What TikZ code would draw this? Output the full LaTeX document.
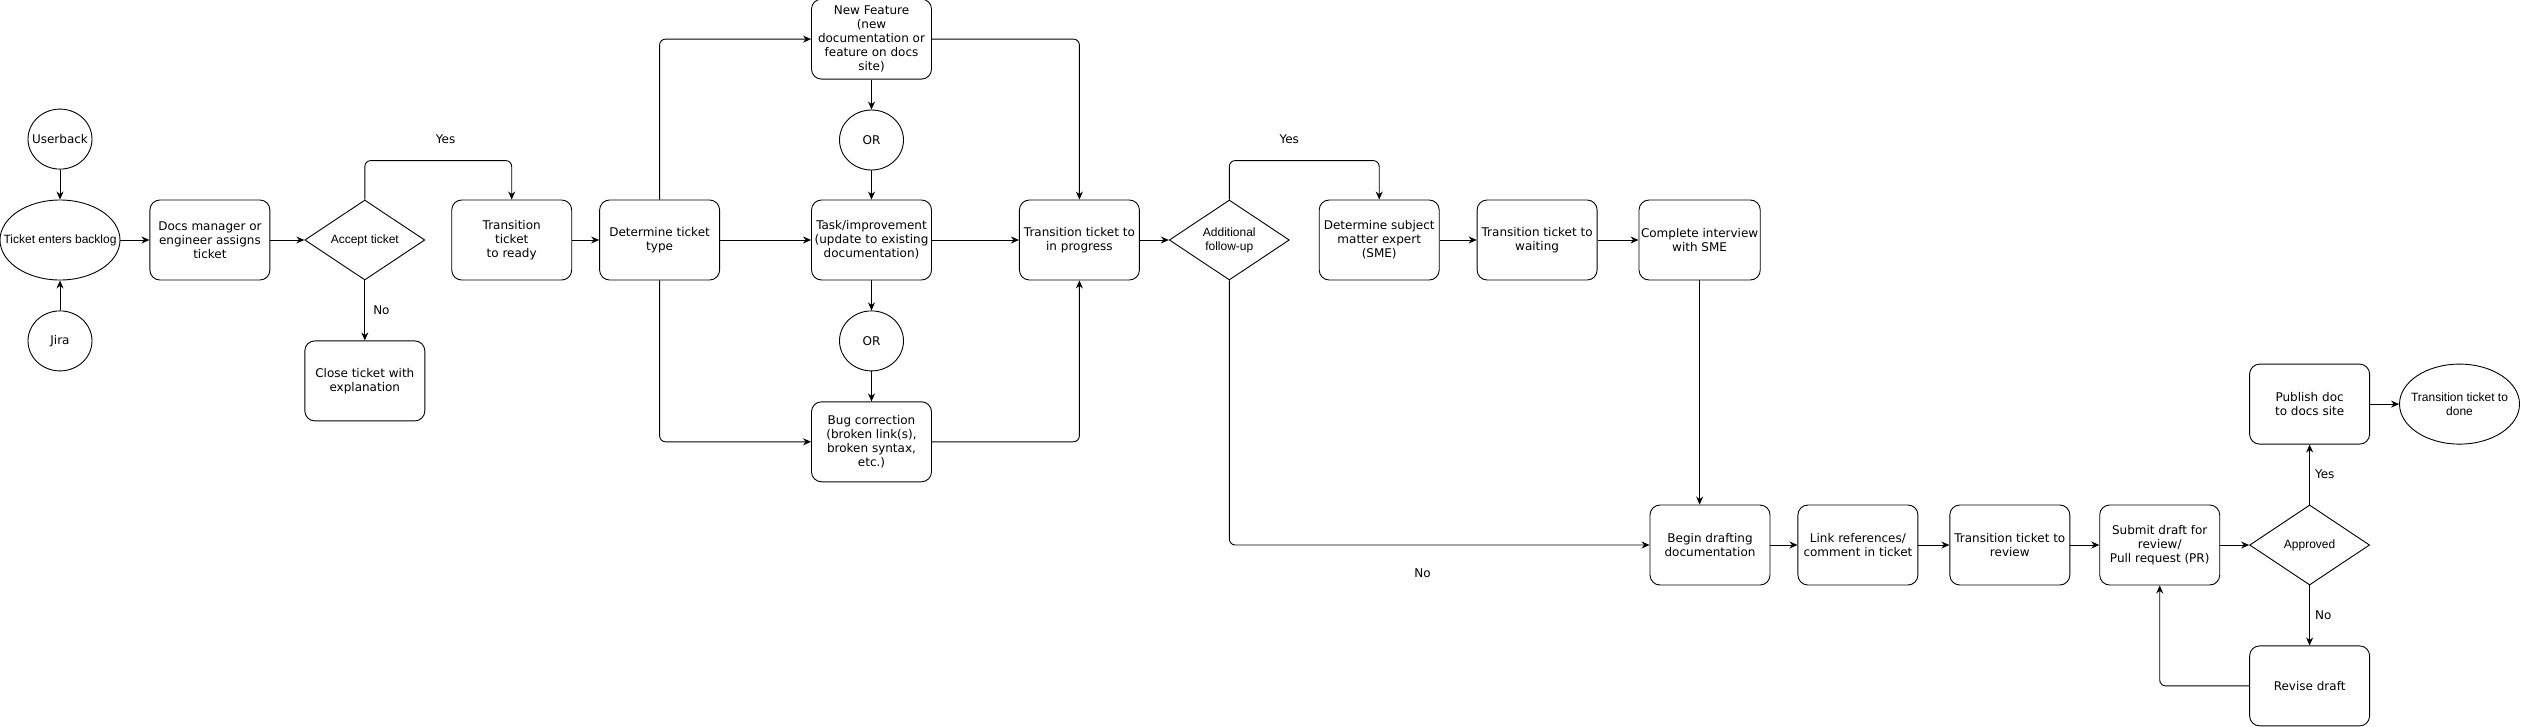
\documentclass[tikz,border=0pt]{standalone}
\usepackage{fontspec}
\setmainfont{DejaVu Sans}
\newfontfamily\arialfont{Liberation Sans}
\usepackage{tikz}
\usetikzlibrary{positioning}
\usetikzlibrary{shapes.geometric}
\usetikzlibrary{arrows.meta}

\begin{document}
\begin{tikzpicture}[
      x=1pt, y=1pt,
      line width=0.9pt,
      node distance=30pt and 30pt,
      font=\fontsize{12}{14}\selectfont,
      stepbox/.style={draw,rounded corners=10pt,minimum width=120pt,minimum height=80pt,inner xsep=2pt,align=center},
      endnode/.style={draw,ellipse,minimum width=120pt,minimum height=80pt,inner sep=-16pt,align=center,font=\arialfont\fontsize{12}{14}\selectfont},
      srcnode/.style={draw,ellipse,minimum width=64pt,minimum height=60pt,inner sep=-8pt},
      choice/.style={draw,diamond,aspect=1.5,minimum width=120pt,minimum height=80pt,inner sep=0pt,align=center,font=\arialfont\fontsize{12}{14}\selectfont},
      note/.style={inner sep=2pt},
      flow/.style={-{Stealth[length=8pt,width=7pt]}}
      ]

      \useasboundingbox (0,0) rectangle (2521,-726);

      \node[endnode] (backlog) at (60,-240) {Ticket enters backlog};
      \node[srcnode, above=of backlog] (userback) {Userback};
      \node[srcnode, below=of backlog] (jira) {Jira};
      \node[stepbox, right=29pt of backlog] (assign) {Docs manager or\\engineer assigns\\ticket};
      \node[choice, right=34pt of assign] (accept) {Accept ticket};
      \node[stepbox, below=60pt of accept] (close) {Close ticket with\\explanation};
      \node[stepbox, right=26pt of accept] (ready) {Transition\\ticket\\to ready};
      \node[stepbox, right=27pt of ready] (tickettype) {Determine ticket\\type};

      \node[stepbox, right=91pt of tickettype] (task) {Task/improvement\\(update to existing\\documentation)};
      \node[stepbox, above=120pt of task] (feature) {New Feature\\ (new\\documentation or\\feature on docs\\site)};
      \node[srcnode, below=of feature] (or1) {OR};
      \node[srcnode, below=of task] (or2) {OR};
      \node[stepbox, below=of or2] (bug) {Bug correction\\(broken link(s),\\broken syntax,\\etc.)};

      \node[stepbox, right=87pt of task] (progress) {Transition ticket to\\in progress};
      \node[choice, right=29pt of progress] (followup) {Additional\\follow-up};
      \node[stepbox, right=29pt of followup] (sme) {Determine subject\\matter expert\\(SME)};
      \node[stepbox, right=37pt of sme] (waiting) {Transition ticket to\\waiting};
      \node[stepbox, right=41pt of waiting] (interview) {Complete interview\\with SME};

      \node[stepbox] (drafting) at (1710,-545) {Begin drafting\\documentation};
      \node[stepbox, right=27pt of drafting] (links) {Link references/\\comment in ticket};
      \node[stepbox, right=31pt of links] (review) {Transition ticket to\\review};
      \node[stepbox, right=29pt of review] (submit) {Submit draft for\\review/\\Pull request (PR)};
      \node[choice, right=29pt of submit] (approved) {Approved};
      \node[stepbox, above=60pt of approved] (publish) {Publish doc\\ to docs site};
      \node[stepbox, below=60pt of approved] (revise) {Revise draft};
      \node[endnode, right=29pt of publish] (done) {Transition ticket to\\done};

      \path (userback) edge[flow] (backlog)
      (jira) edge[flow] (backlog)
      (backlog) edge[flow] (assign)
      (assign) edge[flow] (accept)
      (accept) edge[flow] node[note, right=6pt] (noaccept) {No} (close)
      (ready) edge[flow] (tickettype)
      (tickettype) edge[flow] (task)
      (feature) edge[flow] (or1)
      (or1) edge[flow] (task)
      (task) edge[flow] (or2)
      (or2) edge[flow] (bug)
      (task) edge[flow] (progress)
      (progress) edge[flow] (followup)
      (sme) edge[flow] (waiting)
      (waiting) edge[flow] (interview)
      ;

      \path (drafting) edge[flow] (links)
      (links) edge[flow] (review)
      (review) edge[flow] (submit)
      (submit) edge[flow] (approved)
      (approved) edge[flow] node[note, right=3pt] (yesapproved) {Yes} (publish)
      (approved) edge[flow] node[note, right=3pt] (noapproved) {No} (revise)
      (publish) edge[flow] (done)
      ;

      \draw[flow, rounded corners=6pt] (accept.north) -- ++(0,39) -| node[note, pos=0.275, above=14pt] (yesaccept) {Yes} (ready.north);
      \draw[flow, rounded corners=6pt] (tickettype.north) |- (feature.west);
      \draw[flow, rounded corners=6pt] (tickettype.south) |- (bug.west);
      \draw[flow, rounded corners=6pt] (feature.east) -| (progress.north);
      \draw[flow, rounded corners=6pt] (bug.east) -| (progress.south);
      \draw[flow, rounded corners=6pt] (followup.north) -- ++(0,39) -| node[note, pos=0.2, above=14pt] (yesfollow) {Yes} (sme.north);
      \draw[flow, rounded corners=6pt] (followup.south) |- node[note, pos=0.73, below=21pt] (nofollow) {No} (drafting.west);
      \draw[flow] (interview.south) -- (interview.south |- drafting.north);
      \draw[flow, rounded corners=6pt] (revise.west) -| (submit.south);

    \end{tikzpicture}
\end{document}
